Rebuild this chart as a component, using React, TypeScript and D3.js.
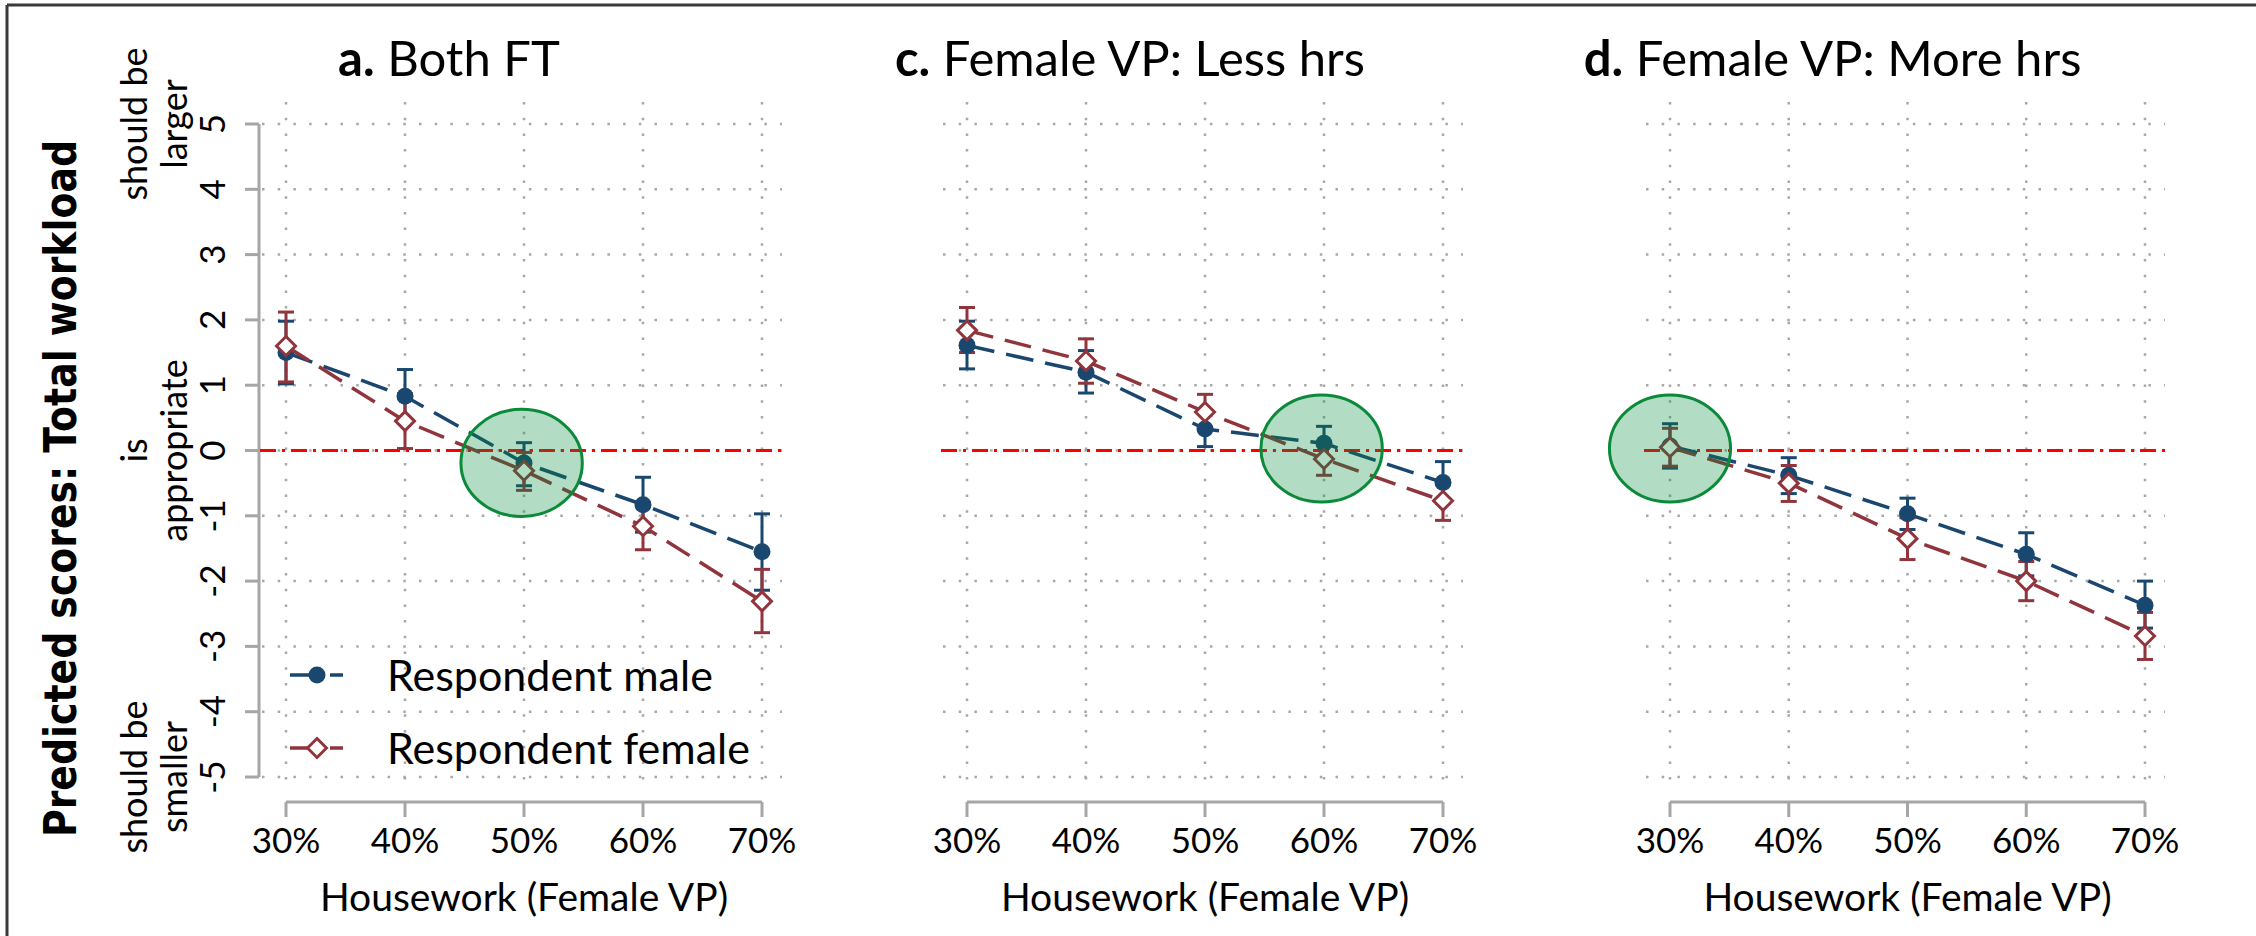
import React from 'react';
import * as d3 from 'd3';

// ---------- data ----------
const housework = [30, 40, 50, 60, 70];
const xTickLabels = ['30%', '40%', '50%', '60%', '70%'];
const yTickValues = [-5, -4, -3, -2, -1, 0, 1, 2, 3, 4, 5];
const yTickExtra = [
  { value: 5, lines: ['should be', 'larger'] },
  { value: 0, lines: ['is', 'appropriate'] },
  { value: -5, lines: ['should be', 'smaller'] },
];
const panelLetters = ['a.', 'c.', 'd.'];
const panelNames = ['Both FT', 'Female VP: Less hrs', 'Female VP: More hrs'];
const seriesNames = ['Respondent male', 'Respondent female'];
const yTitle = 'Predicted scores: Total workload';
const xTitle = 'Housework (Female VP)';

// panel a: Both FT
const maleA = [1.5, 0.83, -0.19, -0.83, -1.55];
const maleALo = [1.02, 0.42, -0.54, -1.25, -2.14];
const maleAHi = [1.98, 1.24, 0.12, -0.41, -0.97];
const femaleA = [1.6, 0.45, -0.31, -1.16, -2.31];
const femaleALo = [1.05, 0.03, -0.61, -1.52, -2.79];
const femaleAHi = [2.12, 0.87, -0.03, -0.8, -1.82];

// panel c: Female VP less hrs
const maleC = [1.61, 1.2, 0.33, 0.11, -0.49];
const maleCLo = [1.25, 0.88, 0.06, -0.15, -0.81];
const maleCHi = [1.98, 1.53, 0.6, 0.37, -0.17];
const femaleC = [1.84, 1.37, 0.59, -0.13, -0.77];
const femaleCLo = [1.5, 1.03, 0.32, -0.38, -1.07];
const femaleCHi = [2.19, 1.71, 0.86, 0.12, -0.47];

// panel d: Female VP more hrs
const maleD = [0.07, -0.38, -0.97, -1.59, -2.37];
const maleDLo = [-0.27, -0.66, -1.21, -1.92, -2.72];
const maleDHi = [0.41, -0.11, -0.73, -1.26, -2.0];
const femaleD = [0.05, -0.5, -1.35, -2.0, -2.84];
const femaleDLo = [-0.24, -0.78, -1.67, -2.3, -3.2];
const femaleDHi = [0.34, -0.23, -1.03, -1.7, -2.48];

// highlighted ellipse (data units)
const highlightX = [49.8, 59.8, 30];
const highlightY = [-0.19, 0.03, 0.03];
const highlightRx = 5.1; // percentage points
const highlightRy = 0.82; // score units

// ---------- layout / style ----------
const W = 2256;
const H = 936;
const panelLeft = [286, 967, 1670];
const panelRight = [762, 1443, 2145];
const NAVY = '#1a476f';
const MAROON = '#90353b';
const GRID = '#a8a8a8';
const AXIS = '#a6a6a6';
const FONT = 'Lato, "Open Sans", sans-serif';

const yScale = d3.scaleLinear().domain([-5, 5]).range([777, 124]);

type Series = { v: number[]; lo: number[]; hi: number[] };
const panels: { male: Series; female: Series }[] = [
  { male: { v: maleA, lo: maleALo, hi: maleAHi }, female: { v: femaleA, lo: femaleALo, hi: femaleAHi } },
  { male: { v: maleC, lo: maleCLo, hi: maleCHi }, female: { v: femaleC, lo: femaleCLo, hi: femaleCHi } },
  { male: { v: maleD, lo: maleDLo, hi: maleDHi }, female: { v: femaleD, lo: femaleDLo, hi: femaleDHi } },
];

function diamond(cx: number, cy: number, r: number) {
  return `M${cx},${cy - r}L${cx + r},${cy}L${cx},${cy + r}L${cx - r},${cy}Z`;
}

function ErrorBars({ x, s, color }: { x: d3.ScaleLinear<number, number>; s: Series; color: string }) {
  return (
    <g stroke={color} strokeWidth={3} fill="none">
      {housework.map((h, i) => {
        const px = x(h);
        const y0 = yScale(s.lo[i]);
        const y1 = yScale(s.hi[i]);
        return (
          <g key={i}>
            <line x1={px} x2={px} y1={y0} y2={y1} />
            <line x1={px - 8} x2={px + 8} y1={y0} y2={y0} />
            <line x1={px - 8} x2={px + 8} y1={y1} y2={y1} />
          </g>
        );
      })}
    </g>
  );
}

function Panel({ idx }: { idx: number }) {
  const x = d3.scaleLinear().domain([30, 70]).range([panelLeft[idx], panelRight[idx]]);
  const p = panels[idx];
  const line = d3
    .line<number>()
    .x((_, i) => x(housework[i]))
    .y((d) => yScale(d));
  const plotL = x(30) - 26;
  const plotR = x(70) + 24;
  const center = x(50);
  const ex = x(highlightX[idx]);
  const ey = yScale(highlightY[idx]);
  const rx = x(50 + highlightRx) - x(50);
  const ry = yScale(0) - yScale(highlightRy);
  return (
    <g>
      {/* grid */}
      <g stroke={GRID} strokeWidth={2.5} strokeDasharray="2.5 13.2" fill="none">
        {yTickValues.map((v) => (
          <line key={'h' + v} x1={plotL + 2} x2={plotR - 4} y1={yScale(v)} y2={yScale(v)} />
        ))}
        {housework.map((h) => (
          <line key={'v' + h} x1={x(h)} x2={x(h)} y1={102} y2={786} />
        ))}
      </g>
      {/* reference line */}
      <line x1={plotL} x2={plotR} y1={yScale(0)} y2={yScale(0)} stroke="#ff0000" strokeWidth={3} strokeDasharray="16 6 3 6" />
      {/* CIs */}
      <ErrorBars x={x} s={p.male} color={NAVY} />
      <ErrorBars x={x} s={p.female} color={MAROON} />
      {/* lines + markers */}
      <path d={line(p.male.v) || ''} fill="none" stroke={NAVY} strokeWidth={3.5} strokeDasharray="28 12" />
      {p.male.v.map((v, i) => (
        <circle key={'m' + i} cx={x(housework[i])} cy={yScale(v)} r={8.5} fill={NAVY} />
      ))}
      <path d={line(p.female.v) || ''} fill="none" stroke={MAROON} strokeWidth={3.5} strokeDasharray="27 12" />
      {p.female.v.map((v, i) => (
        <path key={'f' + i} d={diamond(x(housework[i]), yScale(v), 9.5)} fill="#ffffff" stroke={MAROON} strokeWidth={3} />
      ))}
      {/* highlight ellipse */}
      <ellipse cx={ex} cy={ey} rx={rx} ry={ry} fill="rgba(0,140,60,0.3)" stroke="#0b8a3a" strokeWidth={3} />
      {/* x axis */}
      <g stroke={AXIS} strokeWidth={3}>
        <line x1={x(30)} x2={x(70)} y1={802} y2={802} />
        {housework.map((h) => (
          <line key={'t' + h} x1={x(h)} x2={x(h)} y1={802} y2={817} />
        ))}
      </g>
      {housework.map((h, i) => (
        <text key={'l' + h} x={x(h)} y={853} textAnchor="middle" fontFamily={FONT} fontSize={35} fill="#000">
          {xTickLabels[i]}
        </text>
      ))}
      <text x={center} y={911} textAnchor="middle" fontFamily={FONT} fontSize={39} fill="#000">
        {xTitle}
      </text>
      {/* title */}
      <text x={center - 75} y={76} textAnchor="middle" fontFamily={FONT} fontSize={49} fill="#000">
        <tspan fontWeight="bold">{panelLetters[idx]}</tspan> {panelNames[idx]}
      </text>
    </g>
  );
}

function YAxis() {
  const axisX = 259;
  return (
    <g>
      <g stroke={AXIS} strokeWidth={3}>
        <line x1={axisX} x2={axisX} y1={yScale(-5)} y2={yScale(5)} />
        {yTickValues.map((v) => (
          <line key={v} x1={axisX - 14} x2={axisX} y1={yScale(v)} y2={yScale(v)} />
        ))}
      </g>
      {yTickValues.map((v) => (
        <text key={'n' + v} transform={`translate(225, ${yScale(v)}) rotate(-90)`} textAnchor="middle" fontFamily={FONT} fontSize={35} fill="#000">
          {String(v)}
        </text>
      ))}
      {yTickExtra.map((e) => (
        <g key={'e' + e.value}>
          <text transform={`translate(147, ${yScale(e.value)}) rotate(-90)`} textAnchor="middle" fontFamily={FONT} fontSize={36} fill="#000">
            {e.lines[0]}
          </text>
          <text transform={`translate(187, ${yScale(e.value)}) rotate(-90)`} textAnchor="middle" fontFamily={FONT} fontSize={36} fill="#000">
            {e.lines[1]}
          </text>
        </g>
      ))}
      <text
        transform={`translate(76, 488.5) rotate(-90)`}
        textAnchor="middle"
        fontFamily='"DejaVu Sans", sans-serif'
        fontWeight="bold"
        fontSize={44}
        textLength={697}
        lengthAdjust="spacingAndGlyphs"
        fill="#000"
      >
        {yTitle}
      </text>
    </g>
  );
}

function Legend() {
  const lx0 = 290;
  const lx1 = 343;
  const mx = 317;
  const rows = [675, 748];
  return (
    <g>
      <line x1={lx0} x2={lx1} y1={rows[0]} y2={rows[0]} stroke={NAVY} strokeWidth={3.5} strokeDasharray="28 12" />
      <circle cx={mx} cy={rows[0]} r={8.5} fill={NAVY} />
      <line x1={lx0} x2={lx1} y1={rows[1]} y2={rows[1]} stroke={MAROON} strokeWidth={3.5} strokeDasharray="28 12" />
      <path d={diamond(mx, rows[1], 9.5)} fill="#fff" stroke={MAROON} strokeWidth={3} />
      {seriesNames.map((n, i) => (
        <text key={n} x={387} y={rows[i] + 16} fontFamily={FONT} fontSize={43} fill="#000">
          {n}
        </text>
      ))}
    </g>
  );
}

export default function App() {
  return (
    <svg
      width={W}
      height={H}
      viewBox={`0 0 ${W} ${H}`}
      style={{ position: 'absolute', left: 0, top: 0, background: '#fff' }}
    >
      <rect x={0} y={0} width={W} height={H} fill="#fff" />
      <line x1={7} x2={7} y1={5} y2={H} stroke="#3a3a3a" strokeWidth={3} />
      <line x1={7} x2={W} y1={5} y2={5} stroke="#3a3a3a" strokeWidth={3} />
      <YAxis />
      {[0, 1, 2].map((i) => (
        <Panel key={i} idx={i} />
      ))}
      <Legend />
    </svg>
  );
}
